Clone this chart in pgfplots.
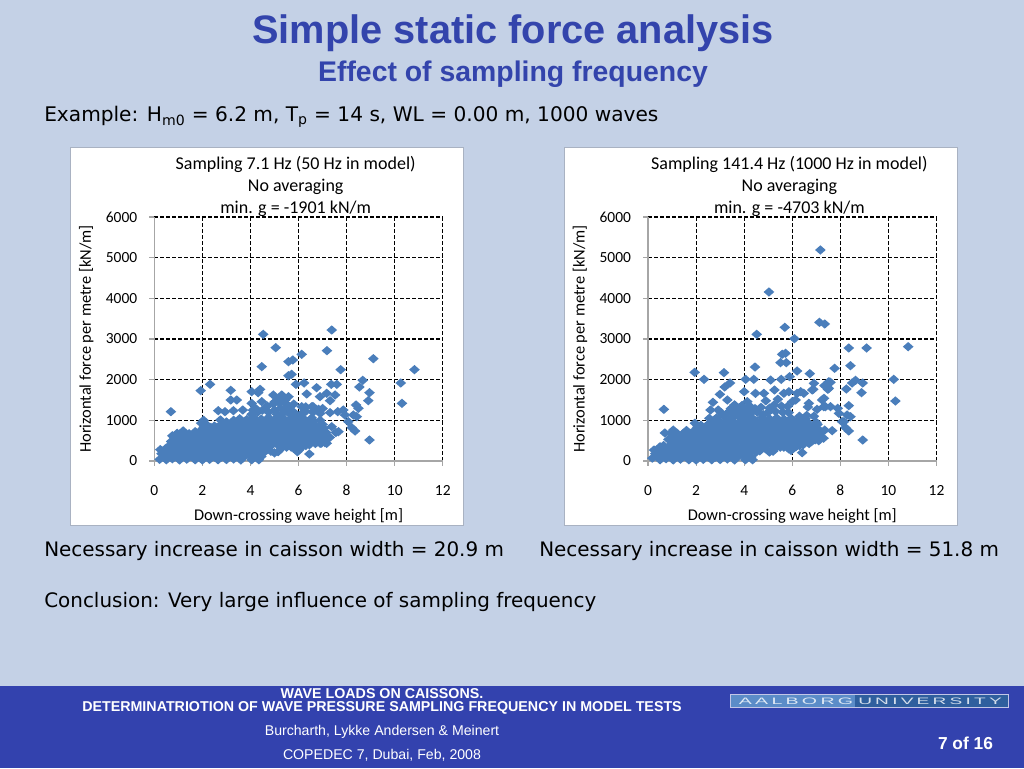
\documentclass[border=0pt]{standalone}
\usepackage{fontspec}
\setmainfont{Carlito}
\newfontfamily\headfont{Liberation Sans}
\newfontfamily\bodyfont{DejaVu Sans}
\usepackage{pgfplots}
\usepackage{pgfplotstable}
\pgfplotsset{compat=1.18}

\definecolor{slidebg}{HTML}{C4D1E6}
\definecolor{bandblue}{HTML}{3342AE}
\definecolor{titleblue}{HTML}{3344AC}
\definecolor{markblue}{HTML}{4A7EBB}
\definecolor{axisgray}{HTML}{A6A6A6}
\definecolor{boxedge}{HTML}{A9B2C2}
\definecolor{logoleft}{HTML}{5B8CC8}
\definecolor{logoright}{HTML}{2F5F9E}

\pgfdeclareplotmark{xldiamond}{%
  \pgfpathmoveto{\pgfqpoint{4.0pt}{0pt}}%
  \pgfpathlineto{\pgfqpoint{0pt}{3.5pt}}%
  \pgfpathlineto{\pgfqpoint{-4.0pt}{0pt}}%
  \pgfpathlineto{\pgfqpoint{0pt}{-3.5pt}}%
  \pgfpathclose\pgfusepathqfill}

% x = down-crossing wave height, y = force
\pgfplotstableread{
x y
0.69 1213
1.93 1730
2.32 1885
3.18 1738
3.18 1500
3.43 1500
3.29 1238
3.68 1254
4.05 1705
4.40 1762
4.32 1680
4.05 1418
4.47 1459
4.47 2320
4.53 3115
5.05 2787
5.58 2443
5.76 2484
5.58 2098
5.71 2131
6.13 2623
5.89 1885
6.23 1918
6.34 1648
6.75 1803
7.18 2713
7.38 3221
7.75 2246
7.36 1885
7.59 1885
7.17 1664
6.89 1582
7.52 1623
7.31 1484
8.67 1984
8.53 1820
9.11 2516
8.95 1680
8.90 1484
8.95 516
10.25 1918
10.30 1418
10.82 2246
6.45 172
8.39 1377
8.49 1295
8.28 1131
8.42 1090
7.93 1131
8.07 967
8.21 820
8.35 738
7.86 1254
7.63 1213
7.31 1189
7.66 721
2.66 1237
2.94 1212
4.10 1250
4.95 1623
5.30 1623
5.58 1581
5.00 1450
5.50 1400
5.80 1400
4.75 1200
5.00 1250
5.40 1250
4.20 1300
4.50 1250
4.70 1350
5.10 1150
5.30 1150
5.60 1300
5.75 1130
6.10 1150
6.13 1335
6.55 1335
6.83 1271
5.15 1540
5.45 1500
5.70 1250
5.95 229
7.17 435
6.90 435
7.38 843
0.22 40
0.50 30
0.75 55
1.05 25
1.35 45
1.70 30
2.00 25
2.30 40
2.65 30
3.00 35
3.30 50
3.60 25
4.05 30
4.35 30
0.40 100
0.70 110
1.00 95
1.30 115
1.60 100
1.90 90
2.20 110
2.50 100
2.80 95
3.10 115
3.40 105
3.70 90
4.00 110
4.30 100
0.30 180
0.55 150
0.85 170
1.15 190
1.45 160
1.75 180
2.05 150
2.35 170
2.65 190
2.95 160
3.25 180
3.55 150
3.85 170
4.15 190
4.45 110
4.60 230
0.42 240
0.70 235
1.00 250
1.30 240
1.60 230
1.90 245
2.20 240
2.50 235
2.80 250
3.10 240
3.40 230
3.70 245
4.00 240
4.30 235
4.55 250
4.85 240
5.15 230
5.50 340
5.85 300
6.15 350
0.25 280
0.50 320
0.80 310
1.10 290
1.40 330
1.70 300
2.00 320
2.30 290
2.60 310
2.90 330
3.20 300
3.50 320
3.80 290
4.10 310
4.40 330
4.70 290
5.00 200
5.30 320
5.70 340
6.00 260
6.30 380
6.70 430
7.10 450
0.65 380
0.95 390
1.25 375
1.55 385
1.85 380
2.15 370
2.45 390
2.75 380
3.05 375
3.35 385
3.65 380
3.95 370
4.25 390
4.55 380
4.85 375
5.15 385
5.45 380
5.75 390
6.05 385
6.45 400
6.95 440
0.70 480
1.00 440
1.30 470
1.60 450
1.90 480
2.20 440
2.50 470
2.80 450
3.10 480
3.40 440
3.70 470
4.00 450
4.30 480
4.60 440
4.90 470
5.20 450
5.50 480
5.80 440
6.10 470
6.40 450
6.80 480
7.10 500
0.85 530
1.15 535
1.45 525
1.75 530
2.05 540
2.35 530
2.65 525
2.95 535
3.25 530
3.55 525
3.85 540
4.15 530
4.45 535
4.75 525
5.05 530
5.35 540
5.65 530
5.95 525
6.25 535
6.55 530
6.85 540
7.20 560
0.75 620
1.00 600
1.30 630
1.60 590
1.85 620
2.15 600
2.45 630
2.75 590
3.05 620
3.35 600
3.65 630
3.95 590
4.25 620
4.55 600
4.85 630
5.15 590
5.45 620
5.75 600
6.05 630
6.35 590
6.65 620
6.95 600
7.30 580
7.55 700
0.95 680
1.20 685
1.45 670
1.75 680
2.05 690
2.35 680
2.65 675
2.95 685
3.25 680
3.55 670
3.85 690
4.15 680
4.45 685
4.75 675
5.05 680
5.35 690
5.65 680
5.95 675
6.25 685
6.55 680
6.85 690
7.15 700
1.20 740
1.70 720
1.95 760
2.25 740
2.55 770
2.85 730
3.15 760
3.45 740
3.75 770
4.05 730
4.35 760
4.65 740
4.95 770
5.25 730
5.55 760
5.85 740
6.15 770
6.45 730
6.75 760
7.05 800
2.05 830
2.35 825
2.65 835
2.95 830
3.25 820
3.55 835
3.85 830
4.15 825
4.45 840
4.75 830
5.05 825
5.35 835
5.65 830
5.95 820
6.25 835
6.55 830
6.85 840
1.95 930
2.20 880
2.50 860
2.80 900
3.10 880
3.40 920
3.70 890
4.00 930
4.30 880
4.60 920
4.90 890
5.20 930
5.50 880
5.80 920
6.10 890
6.40 930
6.70 880
7.00 900
3.00 960
3.60 970
3.90 980
4.20 975
4.50 985
4.80 975
5.10 970
5.40 985
5.70 980
6.00 970
6.30 985
6.60 975
2.05 1000
2.75 1010
3.30 1000
3.55 1040
3.85 1020
4.15 1060
4.45 1030
4.75 1070
5.05 1040
5.35 1060
5.65 1030
5.95 1050
6.25 1020
6.55 1060
6.90 1000
4.05 1150
4.30 1200
5.25 1300
5.55 1200
5.90 1150
6.30 1220
6.60 1200
6.90 1170
4.95 1400
5.20 1430
6.30 1330
6.60 1340
7.00 1290
}\lowrate

\pgfplotstableread{
x y
0.66 1270
1.94 2180
2.33 2008
3.16 2172
3.41 1918
3.19 1820
2.99 1639
3.30 1500
2.70 1443
2.60 1254
2.92 1254
4.06 2008
4.40 2008
4.45 2311
4.52 3115
5.03 4156
5.69 3287
6.09 3008
5.58 2623
5.72 2648
5.51 2418
5.75 2418
5.54 2008
5.89 2074
6.20 2213
6.73 2148
7.17 5189
7.13 3410
7.35 3369
7.76 2279
8.35 2779
9.09 2779
8.42 2344
10.82 2811
10.22 2008
10.29 1475
8.93 516
8.93 1918
8.88 1680
8.63 1984
8.49 1918
8.25 1770
7.59 1934
7.38 1869
7.52 1787
6.90 1910
6.83 1746
6.41 205
8.35 1361
8.28 1131
8.42 1090
7.94 1172
8.07 967
8.21 820
8.35 738
7.66 746
7.24 1500
7.31 1336
7.59 1336
7.89 1295
6.69 1418
7.03 1270
4.82 1664
5.26 1746
5.65 1664
5.10 1990
6.20 1664
6.48 1664
6.00 1459
4.00 1705
4.47 1664
4.13 1459
6.35 1704
6.14 1500
5.86 1704
6.65 1328
7.32 1542
7.38 1335
7.52 1950
7.34 1851
7.48 1763
6.87 1763
8.15 967
6.30 1100
6.60 1120
6.90 1100
0.18 70
0.50 30
0.75 55
1.05 25
1.35 45
1.70 30
2.00 25
2.30 40
2.65 30
3.00 35
3.30 50
3.60 25
4.05 30
4.35 30
0.40 100
0.70 110
1.00 95
1.30 115
1.60 100
1.90 90
2.20 110
2.50 100
2.80 95
3.10 115
3.40 105
3.70 90
4.00 110
4.30 100
0.25 270
0.30 180
0.55 150
0.85 170
1.15 190
1.45 160
1.75 180
2.05 150
2.35 170
2.65 190
2.95 160
3.25 180
3.55 150
3.85 170
4.15 190
4.50 220
0.42 240
0.70 235
1.00 250
1.30 240
1.60 230
1.90 245
2.20 240
2.50 235
2.80 250
3.10 240
3.40 230
3.70 245
4.00 240
4.30 235
4.65 250
4.90 300
5.20 240
5.50 340
5.85 300
6.15 350
0.50 350
0.80 310
1.10 290
1.40 330
1.70 300
2.00 320
2.30 290
2.60 310
2.90 330
3.20 300
3.50 320
3.80 290
4.10 310
4.40 330
4.70 290
5.05 220
5.30 320
5.65 340
5.95 260
6.30 380
6.70 430
7.10 500
0.65 380
0.95 390
1.25 375
1.55 385
1.85 380
2.15 370
2.45 390
2.75 380
3.05 375
3.35 385
3.65 380
3.95 370
4.25 390
4.55 380
4.85 375
5.15 385
5.45 380
5.75 390
6.05 385
6.45 400
6.95 520
0.70 690
1.00 440
1.30 470
1.60 450
1.90 480
2.20 440
2.50 470
2.80 450
3.10 480
3.40 440
3.70 470
4.00 450
4.30 480
4.60 440
4.90 470
5.20 450
5.50 480
5.80 440
6.10 470
6.40 450
6.80 480
7.15 620
0.85 530
1.15 535
1.45 525
1.75 530
2.05 540
2.35 530
2.65 525
2.95 535
3.25 530
3.55 525
3.85 540
4.15 530
4.45 535
4.75 525
5.05 530
5.35 540
5.65 530
5.95 525
6.25 535
6.55 530
6.85 540
7.30 560
1.00 600
1.30 630
1.60 590
1.85 620
2.15 600
2.45 630
2.75 590
3.05 620
3.35 600
3.65 630
3.95 590
4.25 620
4.55 600
4.85 630
5.15 590
5.45 620
5.75 600
6.05 630
6.35 590
6.65 620
6.95 600
7.35 760
0.95 680
1.20 685
1.45 670
1.75 680
2.05 690
2.35 680
2.65 675
2.95 685
3.25 680
3.55 670
3.85 690
4.15 680
4.45 685
4.75 675
5.05 680
5.35 690
5.65 680
5.95 675
6.25 685
6.55 680
6.85 690
7.15 700
1.05 760
1.60 750
1.95 760
2.25 740
2.55 770
2.85 730
3.15 760
3.45 740
3.75 770
4.05 730
4.35 760
4.65 740
4.95 770
5.25 730
5.55 760
5.85 740
6.15 770
6.45 730
6.75 760
7.05 800
2.05 830
2.35 825
2.65 835
2.95 830
3.25 820
3.55 835
3.85 830
4.15 825
4.45 840
4.75 830
5.05 825
5.35 835
5.65 830
5.95 820
6.25 835
6.55 830
6.85 840
7.05 900
1.95 930
2.20 880
2.50 900
2.80 900
3.10 880
3.40 920
3.70 890
4.00 930
4.30 880
4.60 920
4.90 890
5.20 930
5.50 880
5.80 920
6.10 890
6.40 930
6.70 880
7.00 950
2.65 970
2.95 985
3.25 975
3.55 970
3.90 980
4.20 975
4.50 985
4.80 975
5.10 970
5.40 985
5.70 980
6.00 970
6.30 985
6.60 975
2.55 1050
2.85 1060
3.15 1100
3.45 1040
3.75 1100
4.05 1060
4.35 1050
4.75 1070
5.05 1040
5.35 1060
5.65 1030
5.95 1050
6.25 1020
6.55 1040
3.05 1180
3.30 1180
3.55 1150
3.70 1250
3.85 1130
4.00 1220
4.15 1140
4.30 1190
4.55 1200
4.80 1140
5.00 1200
5.30 1220
5.60 1200
5.85 1190
3.45 1290
3.60 1380
3.90 1360
4.10 1290
4.25 1340
4.45 1290
5.05 1300
5.25 1380
5.55 1350
5.80 1340
5.40 1520
4.90 1480
4.70 1320
}\highrate

\pgfplotsset{forcescatter/.style={
  scale only axis, width=216.4pt, height=183pt, anchor=origin,
  xmin=0, xmax=12, ymin=0, ymax=6000,
  xtick={2,4,...,12}, ytick={1000,2000,...,6000},
  extra x ticks={0}, extra y ticks={0}, extra tick style={grid=none},
  axis x line*=bottom, axis y line*=left,
  axis line style={axisgray, line width=1pt, -},
  tick style={axisgray, line width=0.8pt},
  tick align=outside, major tick length=3.75pt,
  grid=major, grid style={black, dash pattern=on 3pt off 1.5pt, line width=0.8pt},
  tick label style={font=\fontsize{11.6}{13}\selectfont},
  xticklabel style={yshift=-11pt},
  yticklabel style={xshift=-5.5pt},
  /pgf/number format/assume math mode=true,
  /pgf/number format/1000 sep={},
  xlabel={Down-crossing wave height [m]},
  ylabel={Horizontal force per metre [kN/m]},
  label style={font=\fontsize{12.3}{14}\selectfont},
  xlabel style={at={(axis description cs:0.5,0)}, anchor=north, yshift=-32.5pt},
  ylabel style={at={(axis description cs:0,0.5)}, anchor=south, xshift=0pt, yshift=42pt},
  title style={font=\fontsize{13.5}{16.2}\selectfont, align=center, at={(axis description cs:0.49,1)}, anchor=south, yshift=-9pt},
  clip=false,
}}

\begin{document}
\begin{tikzpicture}[x=0.75pt, y=0.75pt]
  \fill[slidebg] (0,0) rectangle (1024,768);
  \fill[bandblue] (0,0) rectangle (1024,82);

  \node[font=\headfont\bfseries\fontsize{29.8}{32}\selectfont, text=titleblue] at (513,735) {Simple static force analysis};
  \node[font=\headfont\bfseries\fontsize{21.3}{24}\selectfont, text=titleblue] at (513,694) {Effect of sampling frequency};
  \node[font=\bodyfont\fontsize{15.1}{18}\selectfont, anchor=base west, text=black, inner sep=0pt] at (44,646) {Example: H\textsubscript{m0} = 6.2 m, T\textsubscript{p} = 14 s, WL = 0.00 m, 1000 waves};

  \filldraw[fill=white, draw=boxedge, line width=0.7pt] (70.5,243) rectangle (463,621);
  \filldraw[fill=white, draw=boxedge, line width=0.7pt] (564.5,243) rectangle (957,621);

  \begin{axis}[forcescatter, at={(115.725pt,230.25pt)},
      title={Sampling 7.1 Hz (50 Hz in model)\\No averaging\\min. g = -1901 kN/m}]
    \addplot[only marks, mark=xldiamond, color=markblue] table[x=x, y=y] {\lowrate};
  \end{axis}
  \begin{axis}[forcescatter, at={(486pt,230.25pt)},
      title={Sampling 141.4 Hz (1000 Hz in model)\\No averaging\\min. g = -4703 kN/m}]
    \addplot[only marks, mark=xldiamond, color=markblue] table[x=x, y=y] {\highrate};
  \end{axis}

  \node[font=\bodyfont\fontsize{14.95}{18}\selectfont, anchor=base west, inner sep=0pt] at (44,212) {Necessary increase in caisson width = 20.9 m};
  \node[font=\bodyfont\fontsize{14.95}{18}\selectfont, anchor=base west, inner sep=0pt] at (539,212) {Necessary increase in caisson width = 51.8 m};
  \node[font=\bodyfont\fontsize{14.95}{18}\selectfont, anchor=base west, inner sep=0pt] at (44,161) {Conclusion: Very large influence of sampling frequency};

  \begin{scope}[every node/.style={text=white, inner sep=0pt}]
    \node[font=\headfont\bfseries\fontsize{10.7}{12}\selectfont] at (382,74) {WAVE LOADS ON CAISSONS.};
    \node[font=\headfont\bfseries\fontsize{10.7}{12}\selectfont] at (382,60) {DETERMINATRIOTION OF WAVE PRESSURE SAMPLING FREQUENCY IN MODEL TESTS};
    \node[font=\headfont\fontsize{10.6}{12}\selectfont] at (382,36) {Burcharth, Lykke Andersen \& Meinert};
    \node[font=\headfont\fontsize{10.6}{12}\selectfont] at (382,12.5) {COPEDEC 7, Dubai, Feb, 2008};
    \node[font=\headfont\bfseries\fontsize{13}{15}\selectfont] at (965.5,25) {7 of 16};
  \end{scope}

  \fill[white!70!bandblue] (730,60) rectangle (1009,74);
  \fill[logoleft] (731,61) rectangle (855,73);
  \fill[logoright] (855,61) rectangle (1008,73);
  \node[font=\headfont\fontsize{7}{8}\selectfont, text=white!80!logoleft, inner sep=0pt, xscale=2.1] at (796,67) {A\,A\,L\,B\,O\,R\,G};
  \node[font=\headfont\fontsize{7}{8}\selectfont, text=white!80!logoright, inner sep=0pt, xscale=2.05] at (930,67) {U\,N\,I\,V\,E\,R\,S\,I\,T\,Y};
\end{tikzpicture}
\end{document}
